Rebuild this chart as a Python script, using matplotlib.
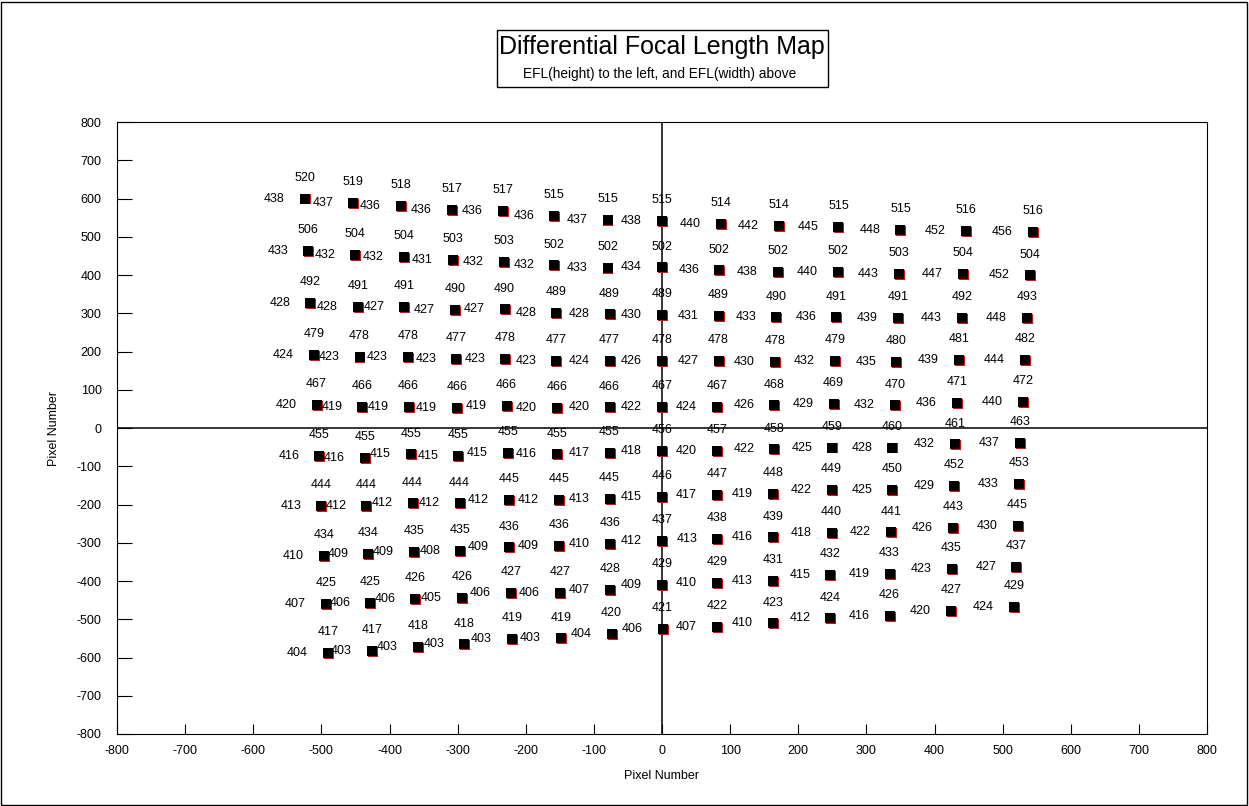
"""
Differential Focal Length Map
출력: out.png
"""

import matplotlib
matplotlib.use("Agg")
import matplotlib.pyplot as plt
import matplotlib.transforms as mtransforms
from matplotlib.patches import Rectangle

plt.rcParams["font.family"] = ["Liberation Sans", "DejaVu Sans"]
plt.rcParams["axes.unicode_minus"] = False

# ── 데이터 ─────────────────────────────────────────────────────────────

# 점 위치 (pixel), 행 = 위에서 아래로, 열 = 왼쪽에서 오른쪽으로
X_POS = [
    [-524, -453, -383, -308, -234, -158, -80, 0, 86, 172, 259, 350, 446, 544],
    [-519, -450, -379, -307, -232, -158, -80, 0, 84, 170, 258, 348, 442, 540],
    [-516, -446, -378, -304, -231, -155, -77, 0, 83, 168, 256, 346, 440, 536],
    [-511, -444, -373, -302, -230, -155, -77, 0, 83, 166, 254, 344, 436, 533],
    [-507, -440, -372, -301, -228, -154, -77, 0, 81, 165, 252, 342, 433, 530],
    [-503, -436, -369, -299, -226, -154, -77, 0, 81, 165, 250, 338, 430, 525],
    [-500, -434, -366, -297, -225, -151, -77, 0, 81, 163, 249, 338, 429, 524],
    [-496, -431, -364, -296, -225, -151, -76, 0, 81, 163, 249, 336, 427, 522],
    [-493, -428, -362, -294, -222, -150, -76, 0, 81, 163, 247, 334, 425, 520],
    [-490, -426, -358, -290, -220, -148, -74, 1, 81, 163, 247, 334, 424, 517],
]
Y_POS = [
    [600, 589, 581, 570, 568, 554, 544, 541, 534, 528, 525, 518, 515, 512],
    [463, 452, 448, 439, 435, 425, 419, 420, 412, 409, 408, 403, 403, 399],
    [326, 317, 317, 309, 310, 300, 297, 296, 294, 289, 289, 287, 287, 287],
    [191, 185, 185, 181, 181, 175, 175, 175, 175, 172, 175, 172, 178, 178],
    [60, 56, 56, 53, 58, 53, 54, 56, 56, 59, 62, 59, 66, 69],
    [-73, -78, -69, -73, -66, -69, -66, -60, -60, -56, -51, -51, -43, -40],
    [-203, -203, -197, -197, -188, -188, -186, -180, -176, -173, -162, -162, -152, -146],
    [-334, -330, -325, -322, -312, -309, -304, -295, -291, -286, -275, -273, -262, -255],
    [-460, -457, -447, -444, -431, -431, -424, -411, -404, -399, -385, -382, -369, -363],
    [-589, -582, -573, -566, -552, -550, -539, -526, -521, -511, -498, -491, -478, -467],
]

# EFL(width): 점 위에 표시
EFL_W = [
    [520, 519, 518, 517, 517, 515, 515, 515, 514, 514, 515, 515, 516, 516],
    [506, 504, 504, 503, 503, 502, 502, 502, 502, 502, 502, 503, 504, 504],
    [492, 491, 491, 490, 490, 489, 489, 489, 489, 490, 491, 491, 492, 493],
    [479, 478, 478, 477, 478, 477, 477, 478, 478, 478, 479, 480, 481, 482],
    [467, 466, 466, 466, 466, 466, 466, 467, 467, 468, 469, 470, 471, 472],
    [455, 455, 455, 455, 455, 455, 455, 456, 457, 458, 459, 460, 461, 463],
    [444, 444, 444, 444, 445, 445, 445, 446, 447, 448, 449, 450, 452, 453],
    [434, 434, 435, 435, 436, 436, 436, 437, 438, 439, 440, 441, 443, 445],
    [425, 425, 426, 426, 427, 427, 428, 429, 429, 431, 432, 433, 435, 437],
    [417, 417, 418, 418, 419, 419, 420, 421, 422, 423, 424, 426, 427, 429],
]

# EFL(height): 점 왼쪽에 표시
EFL_H = [
    [438, 437, 436, 436, 436, 436, 437, 438, 440, 442, 445, 448, 452, 456],
    [433, 432, 432, 431, 432, 432, 433, 434, 436, 438, 440, 443, 447, 452],
    [428, 428, 427, 427, 427, 428, 428, 430, 431, 433, 436, 439, 443, 448],
    [424, 423, 423, 423, 423, 423, 424, 426, 427, 430, 432, 435, 439, 444],
    [420, 419, 419, 419, 419, 420, 420, 422, 424, 426, 429, 432, 436, 440],
    [416, 416, 415, 415, 415, 416, 417, 418, 420, 422, 425, 428, 432, 437],
    [413, 412, 412, 412, 412, 412, 413, 415, 417, 419, 422, 425, 429, 433],
    [410, 409, 409, 408, 409, 409, 410, 412, 413, 416, 418, 422, 426, 430],
    [407, 406, 406, 405, 406, 406, 407, 409, 410, 413, 415, 419, 423, 427],
    [404, 403, 403, 403, 403, 403, 404, 406, 407, 410, 412, 416, 420, 424],
]

TICKS = list(range(-800, 801, 100))

# ── 그림 ──────────────────────────────────────────────────────────────────────

fig = plt.figure(figsize=(12.49, 8.06), dpi=100)
ax = fig.add_axes([117 / 1249, 1 - 734 / 806, 1090 / 1249, 612 / 806])

xs = [x for row in X_POS for x in row]
ys = [y for row in Y_POS for y in row]

# 빨간 점은 검은 점 뒤에서 살짝 어긋나 보임
red_tr = mtransforms.offset_copy(ax.transData, fig=fig, x=0.7, y=-0.7, units="points")
ax.plot(xs, ys, "s", color="red", markersize=6.5, markeredgewidth=0, transform=red_tr, zorder=3)
ax.plot(xs, ys, "s", color="black", markersize=6.5, markeredgewidth=0, zorder=4)

for r in range(len(X_POS)):
    for c in range(len(X_POS[r])):
        x, y = X_POS[r][c], Y_POS[r][c]
        ax.annotate(str(EFL_W[r][c]), (x, y), xytext=(0, 15), textcoords="offset points",
                    ha="center", va="center", fontsize=9)
        ax.annotate(str(EFL_H[r][c]), (x, y), xytext=(-22, 0), textcoords="offset points",
                    ha="center", va="center", fontsize=9)

ax.axhline(0, color="black", lw=1.1, zorder=2)
ax.axvline(0, color="black", lw=1.1, zorder=2)

ax.set_xlim(-800, 800)
ax.set_ylim(-800, 800)
ax.set_xticks(TICKS)
ax.set_yticks(TICKS)
ax.tick_params(axis="x", direction="in", length=7, width=0.8, pad=8, labelsize=9)
ax.tick_params(axis="y", direction="in", length=11, width=0.8, pad=11, labelsize=9)
for sp in ax.spines.values():
    sp.set_linewidth(0.8)

ax.set_xlabel("Pixel Number", fontsize=9, labelpad=9)
ax.set_ylabel("Pixel Number", fontsize=9, labelpad=12)

# 제목 상자
fig.patches.append(Rectangle((497 / 1249, 1 - 87 / 806), 331 / 1249, 57 / 806,
                             transform=fig.transFigure, fill=False, edgecolor="black", lw=1))
fig.text(662 / 1249, 1 - 47 / 806, "Differential Focal Length Map",
         ha="center", va="center", fontsize=18)
fig.text(660 / 1249, 1 - 74 / 806, "EFL(height) to the left, and EFL(width) above",
         ha="center", va="center", fontsize=9.8)

# 바깥 테두리
fig.patches.append(Rectangle((0.001, 0.0015), 0.997, 0.996, transform=fig.transFigure,
                             fill=False, edgecolor="black", lw=1))

fig.savefig("out.png", dpi=100)
plt.close(fig)
